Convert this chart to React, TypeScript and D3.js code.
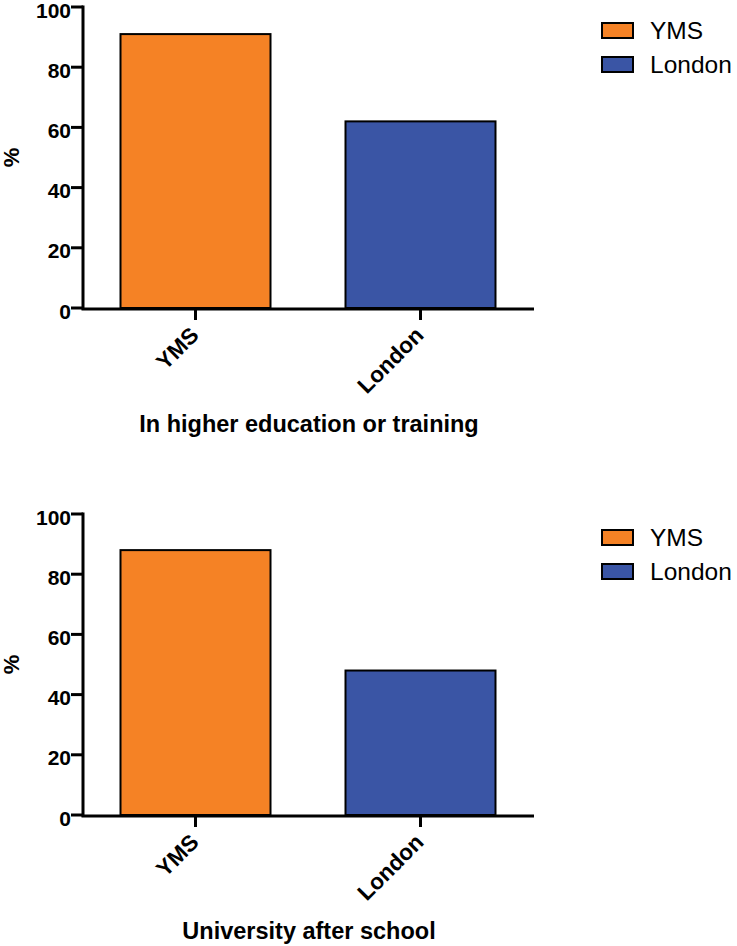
import React from "react";
import * as d3 from "d3";

// chart values
const categories = ["YMS", "London"];
const higherEducation = [91, 62];
const universityAfterSchool = [88, 48];
const yTicks = [0, 20, 40, 60, 80, 100];
const colors = ["#F58225", "#3A55A5"];
const panelTitles = ["In higher education or training", "University after school"];

const FONT = "Liberation Sans, Arial, sans-serif";

function Panel({ values, title, top }: { values: number[]; title: string; top: number }) {
  const left = 83;
  const right = 533;
  const plotH = 301;
  const y = d3.scaleLinear().domain([0, 100]).range([top + plotH, top]);
  const x = d3
    .scaleBand<string>()
    .domain(categories)
    .range([left, right])
    .paddingInner(1 / 3)
    .paddingOuter(1 / 6);
  const base = y(0);

  return (
    <g>
      {/* bars */}
      {categories.map((c, i) => (
        <rect
          key={c}
          x={x(c)}
          y={y(values[i])}
          width={x.bandwidth()}
          height={base - y(values[i])}
          fill={colors[i]}
          stroke="#000"
          strokeWidth={2}
        />
      ))}

      {/* y axis */}
      <line x1={left} x2={left} y1={y(100) - 1.5} y2={base + 1.5} stroke="#000" strokeWidth={3} />
      {yTicks.map((t) => (
        <g key={t}>
          <line x1={left - 12} x2={left} y1={y(t)} y2={y(t)} stroke="#000" strokeWidth={3} />
          <text
            x={left - 12}
            y={y(t)}
            dy="0.5em"
            textAnchor="end"
            fontFamily={FONT}
            fontWeight="bold"
            fontSize={21}
          >
            {t}
          </text>
        </g>
      ))}
      <text
        transform={`translate(19,${y(50)}) rotate(-90)`}
        textAnchor="middle"
        fontFamily={FONT}
        fontWeight="bold"
        fontSize={22}
      >
        %
      </text>

      {/* x axis */}
      <line x1={left - 1.5} x2={right + 1} y1={base + 1} y2={base + 1} stroke="#000" strokeWidth={3} />
      {categories.map((c) => {
        const cx = x(c)! + x.bandwidth() / 2;
        return (
          <g key={c}>
            <line x1={cx} x2={cx} y1={base} y2={base + 12} stroke="#000" strokeWidth={3} />
            <text
              transform={`translate(${cx - 5},${base + 19}) rotate(-45)`}
              textAnchor="end"
              dy="0.6em"
              fontFamily={FONT}
              fontWeight="bold"
              fontSize={22.5}
            >
              {c}
            </text>
          </g>
        );
      })}
      <text
        x={(left + right) / 2 + 1}
        y={base + 124}
        textAnchor="middle"
        fontFamily={FONT}
        fontWeight="bold"
        fontSize={23.5}
      >
        {title}
      </text>

      {/* legend */}
      {categories.map((c, i) => (
        <g key={c} transform={`translate(602,${top + 16 + i * 34})`}>
          <rect x={0} y={0} width={31} height={15} fill={colors[i]} stroke="#000" strokeWidth={2} />
          <text x={48} y={7.5} dy="0.36em" fontFamily={FONT} fontSize={24.5}>
            {c}
          </text>
        </g>
      ))}
    </g>
  );
}

export default function App() {
  return (
    <svg width={737} height={946} style={{ position: "absolute", left: 0, top: 0, background: "#fff" }}>
      <Panel values={higherEducation} title={panelTitles[0]} top={7} />
      <Panel values={universityAfterSchool} title={panelTitles[1]} top={514} />
    </svg>
  );
}
